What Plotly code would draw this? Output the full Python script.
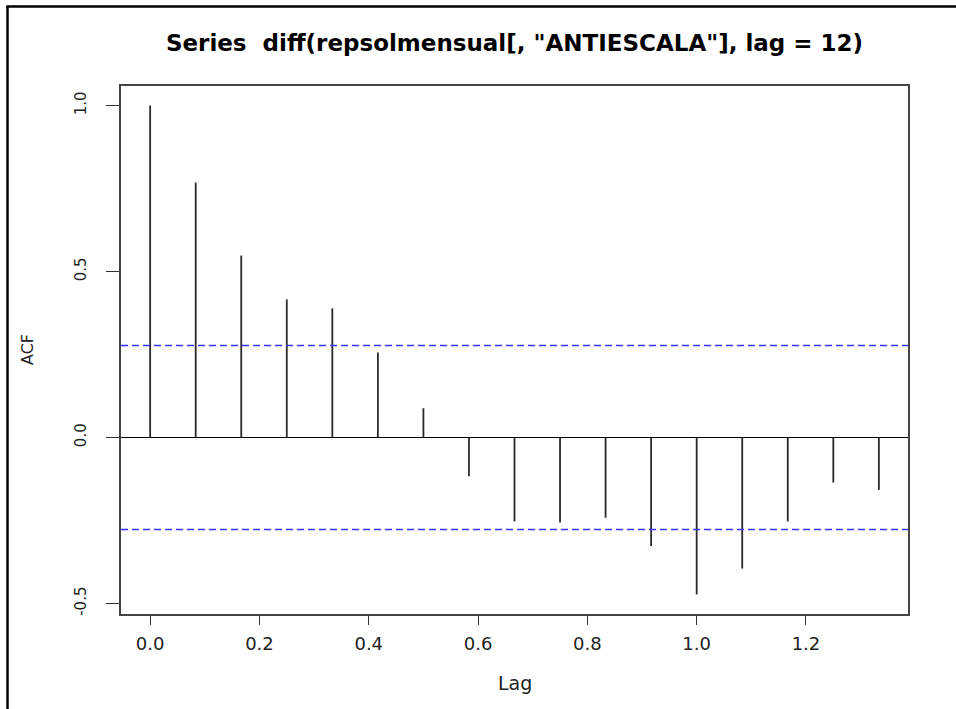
import plotly.graph_objects as go

# Sample autocorrelations of the seasonally differenced series (lags in years, monthly data)
lag_months = list(range(17))
acf_values = [1.000, 0.768, 0.548, 0.416, 0.389, 0.256, 0.088, -0.117, -0.253,
              -0.256, -0.242, -0.327, -0.473, -0.395, -0.253, -0.136, -0.158]
conf_limit = 0.277
x_ticks = [0.0, 0.2, 0.4, 0.6, 0.8, 1.0, 1.2]
y_ticks = [-0.5, 0.0, 0.5, 1.0]
title_text = 'Series\u00a0\u00a0diff(repsolmensual[, "ANTIESCALA"], lag = 12)'

lags = [k / 12 for k in lag_months]

# R-style axis limits: data range extended by 4% on each side
def padded(lo, hi):
    d = (hi - lo) * 0.04
    return [lo - d, hi + d]

x_range = padded(min(lags), max(lags))
y_range = padded(min(min(acf_values), -conf_limit), max(max(acf_values), conf_limit))

# vertical spikes from zero to each autocorrelation
spike_x, spike_y = [], []
for lx, v in zip(lags, acf_values):
    spike_x += [lx, lx, None]
    spike_y += [0, v, None]

fig = go.Figure()
fig.add_trace(go.Scatter(x=spike_x, y=spike_y, mode="lines",
                         line=dict(color="#2a2a2a", width=1.8),
                         hoverinfo="skip", showlegend=False))

# confidence bounds
for c in (conf_limit, -conf_limit):
    fig.add_shape(type="line", xref="paper", x0=0, x1=1, yref="y", y0=c, y1=c,
                  line=dict(color="#3535ff", width=1.5, dash="7px,4px"))

# outer frame around the figure (left and top edges)
pw, ph = 956 - 121 - 48, 709 - 86 - 95
def px_to_paper_x(px):
    return (px - 121) / pw
def py_to_paper_y(py):
    return (709 - 95 - py) / ph
fig.add_shape(type="line", xref="paper", yref="paper",
              x0=px_to_paper_x(7.5), x1=px_to_paper_x(7.5),
              y0=py_to_paper_y(6.5), y1=py_to_paper_y(712),
              line=dict(color="black", width=2.5))
fig.add_shape(type="line", xref="paper", yref="paper",
              x0=px_to_paper_x(6.3), x1=px_to_paper_x(960),
              y0=py_to_paper_y(6.5), y1=py_to_paper_y(6.5),
              line=dict(color="black", width=2.5))

font_family = "DejaVu Sans"

fig.update_layout(
    width=956, height=709,
    margin=dict(l=121, r=48, t=86, b=95),
    paper_bgcolor="white", plot_bgcolor="white",
    font=dict(family=font_family, color="#222222"),
    title=dict(text="<b>" + title_text + "</b>", x=0.5, xref="paper",
               y=1 - 43 / 709, yref="container", yanchor="middle",
               font=dict(family=font_family, size=23, color="black")),
    xaxis=dict(range=x_range, tickvals=x_ticks,
               ticktext=[f"{v:.1f}" for v in x_ticks],
               showgrid=False, zeroline=False,
               showline=True, mirror=True, linecolor="#444444", linewidth=1.5,
               ticks="outside", ticklen=9, tickwidth=1.2, tickcolor="#333333",
               tickfont=dict(size=18, color="#222222"), ticklabelstandoff=4),
    yaxis=dict(range=y_range, tickvals=y_ticks,
               ticktext=[f"{v:.1f}" for v in y_ticks],
               showgrid=False, zeroline=True, zerolinecolor="black", zerolinewidth=1.2,
               showline=True, mirror=True, linecolor="#444444", linewidth=1.5,
               ticks="outside", ticklen=13, tickwidth=1.2, tickcolor="#333333",
               tickangle=-90, tickfont=dict(size=15, color="#222222"),
               ticklabelstandoff=14),
    annotations=[
        dict(text="Lag", xref="paper", x=0.5, yref="paper", y=0, yanchor="middle",
             yshift=-69, showarrow=False, font=dict(size=19, color="#222222")),
        dict(text="ACF", xref="paper", x=0, xanchor="center", xshift=-94,
             yref="paper", y=0.5, yanchor="middle", textangle=-90,
             showarrow=False, font=dict(size=16, color="#222222")),
    ],
)

fig.write_html("out.html")
